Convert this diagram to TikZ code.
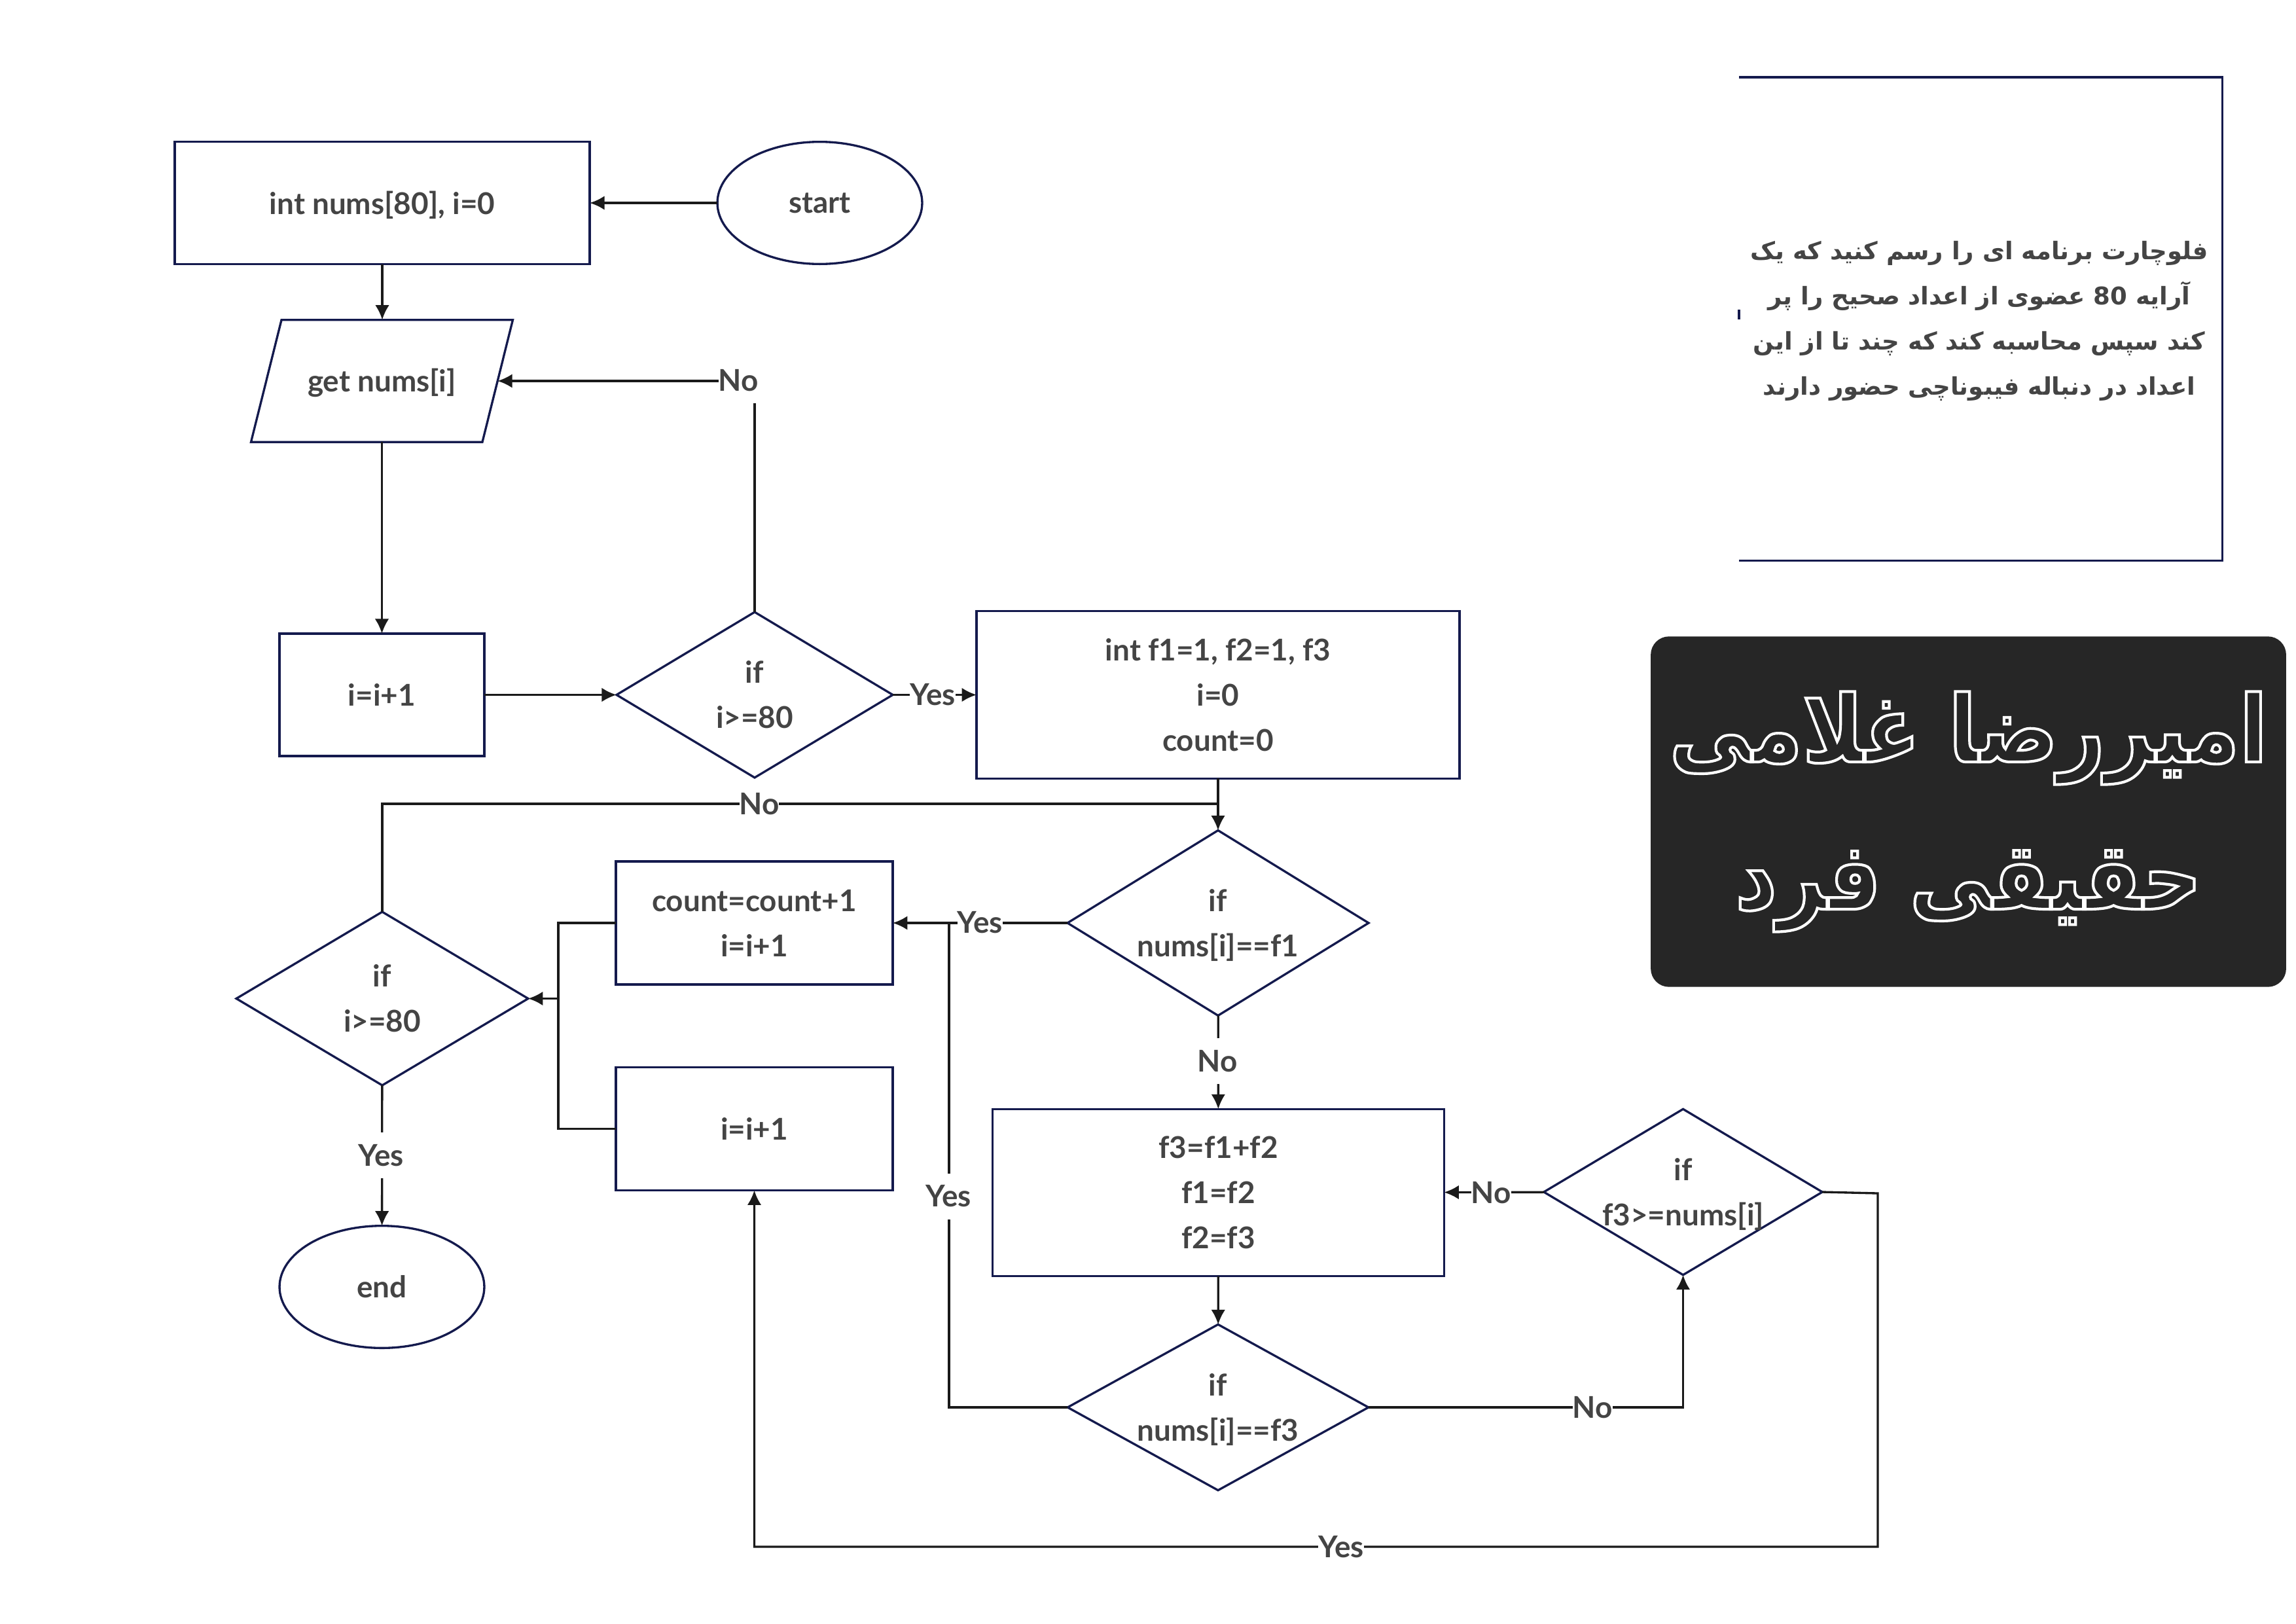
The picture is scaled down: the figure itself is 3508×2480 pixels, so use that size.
\documentclass[tikz,border=0pt]{standalone}
\usepackage{fontspec}
\setmainfont{Lato}
\newfontfamily\persianfont[Script=Arabic]{DejaVu Sans}
\newfontfamily\cardfont[Script=Arabic,FakeStretch=0.88]{DejaVu Sans}
\TeXXeTstate=1
\usetikzlibrary{shapes.geometric,arrows.meta}
\definecolor{shapeBlue}{HTML}{141A4D}
\definecolor{lineBlack}{HTML}{1A1A1A}
\definecolor{textGray}{HTML}{444444}
\definecolor{titleBack}{HTML}{262626}
\newcommand{\outlineOn}{\special{pdf:code 1 Tr 1 w 1 1 1 RG}}
\newcommand{\outlineOff}{\special{pdf:code 0 Tr}}

\begin{document}
\begin{tikzpicture}[
				x=0.24pt,y=-0.24pt,
				every node/.style={font=\fontsize{11}{16.56}\selectfont\bfseries,text=textGray,align=center,inner sep=0pt,outer sep=0pt},
				shapeLine/.style={draw=shapeBlue,line width=0.8pt},
				processBox/.style={shapeLine,rectangle,minimum width=#1},
				terminal/.style={shapeLine,ellipse,minimum width=75.1pt,minimum height=44.8pt},
				decision/.style={shapeLine,diamond,inner sep=-30pt},
				inputBox/.style={shapeLine,trapezium,trapezium left angle=76,trapezium right angle=104,trapezium stretches body,minimum width=96pt,text height=8pt,text depth=0pt,inner ysep=18.4pt},
				flowLine/.style={draw=lineBlack,line width=0.8pt},
				flowArrow/.style={flowLine,-{Latex[length=5.4pt,width=5.2pt]}},
				edgeLabel/.style={fill=white,minimum height=16.8pt}]
			\path[use as bounding box] (0,0) rectangle (3508,2480);

			% left column
			\node [terminal] (start) at (1252.5,310) {start};
			\node [processBox=152.2pt,minimum height=44.9pt,text depth=0pt] (init) at (584,310) {int nums[80], i=0};
			\node [inputBox] (input) at (583.5,582) {get nums[i]};
			\node [processBox=75.1pt,minimum height=44.9pt] (incA) at (583.5,1061.5) {i=i+1};
			\node [decision,minimum width=101.3pt,minimum height=60.7pt] (checkA) at (1153,1061.5) {if\\i>=80};
			\node [processBox=177.1pt,minimum height=61.4pt] (fibInit) at (1861,1061.5) {int f1=1, f2=1, f3\\i=0\\count=0};

			% middle rows
			\node [decision,minimum width=110.4pt,minimum height=67.9pt] (checkF1) at (1861,1410) {if\\\smash{nums[i]==f1}};
			\node [processBox=101.5pt,minimum height=45.1pt] (counter) at (1152.5,1410) {count=count+1\\i=i+1};
			\node [processBox=101.5pt,minimum height=45.1pt] (incB) at (1152.5,1724.5) {i=i+1};
			\node [decision,minimum width=107pt,minimum height=63.6pt] (checkB) at (584,1525.5) {if\\i>=80};
			\node [terminal] (end) at (583.5,1966) {end};
			\node [processBox=165.5pt,minimum height=61.3pt] (fibStep) at (1861.5,1822) {f3=f1+f2\\f1=f2\\f2=f3};
			\node [decision,minimum width=110.3pt,minimum height=60.8pt] (checkF3) at (1861,2150) {if\\\smash{nums[i]==f3}};
			\node [decision,minimum width=102.1pt,minimum height=60.8pt] (checkBig) at (2571.5,1821) {if\\\smash{f3>=nums[i]}};

			% corners of the long connectors
			\coordinate (noJoin) at (1861,1228);
			\coordinate (yesJoin) at (1450,1410);
			\coordinate (mergeJoin) at (853,1525.5);
			\coordinate (exitCorner) at (2869,1823);
			\coordinate (bottomJoin) at (1152.5,2363);

			\draw[flowArrow] (start) -- (init);
			\draw[flowArrow] (init) -- (init |- input.north);
			\draw[flowArrow] (input.south -| incA) -- (incA);
			\draw[flowArrow] (incA) -- (checkA);
			\draw[flowArrow] (checkA.north) |- (input.east);
			\draw[flowArrow] (checkA) -- (fibInit);
			\draw[flowArrow] (fibInit) -- (checkF1);
			\draw[flowLine] (noJoin) -| (checkB.north);
			\draw[flowArrow] (checkF1) -- (counter);
			\draw[flowArrow] (checkF1) -- (fibStep);
			\draw[flowLine] (counter.west) -| (mergeJoin) |- (incB.west);
			\draw[flowArrow] (mergeJoin) -- (checkB.east);
			\draw[flowArrow] (checkB) -- (end);
			\draw[flowArrow] (fibStep) -- (checkF3);
			\draw[flowLine] (checkF3.west) -| (yesJoin);
			\draw[flowArrow] (checkF3.east) -| (checkBig.south);
			\draw[flowArrow] (checkBig) -- (fibStep);
			\draw[flowArrow] (checkBig.east) -- (exitCorner) |- (bottomJoin) -- (incB.south);

			% labels sit on top of the connectors
			\node [edgeLabel] (noA) at (1128,581) {No};
			\node [edgeLabel] (yesA) at (1425,1061.5) {Yes};
			\node [edgeLabel] (noB) at (1160,1228) {No};
			\node [edgeLabel] (yesB) at (1497.5,1409) {Yes};
			\node [edgeLabel] (noC) at (1860,1621) {No};
			\node [edgeLabel] (yesC) at (582,1765) {Yes};
			\node [edgeLabel] (yesD) at (1449,1827.5) {Yes};
			\node [edgeLabel] (noD) at (2278,1822) {No};
			\node [edgeLabel] (noE) at (2433,2150) {No};
			\node [edgeLabel] (yesE) at (2049,2363) {Yes};

			% question box, its left side is missing
			\draw[shapeLine] (2657,118) -| (3395.5,856.5) -- (2657,856.5);
			\draw[shapeLine] (2657,473) -- (2657,488);
			\node [font=\fontsize{8.9}{16.56}\selectfont\bfseries\persianfont] (question) at (3024,490) {%
				\beginR فلوچارت برنامه ای را رسم کنید که یک\endR\\
				\beginR آرایه \beginL 80\endL{} عضوی از اعداد صحیح را پر\endR\\
				\beginR کند سپس محاسبه کند که چند تا از این\endR\\
				\beginR اعداد در دنباله فیبوناچی حضور دارند\endR};

			% name card
			\node [fill=titleBack,rounded corners=6.7pt,minimum width=233pt,minimum height=128.5pt,
				font=\fontsize{34}{54}\selectfont\bfseries\cardfont] (card) at (3007.5,1240) {%
				\outlineOn\beginR امیررضا غلامی\endR\\
				\beginR حقیقی فرد\endR\outlineOff};
		\end{tikzpicture}
\end{document}
